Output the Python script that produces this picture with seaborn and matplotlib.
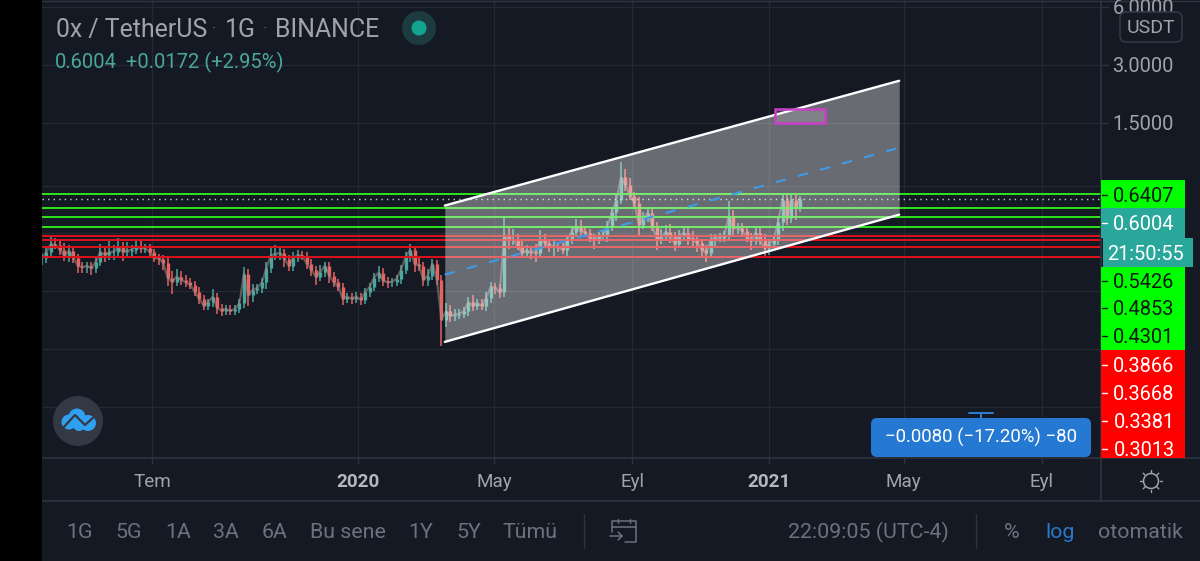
import numpy as np
import pandas as pd
import matplotlib
matplotlib.use("Agg")
import matplotlib.pyplot as plt
import matplotlib.dates as mdates
from matplotlib.patches import FancyBboxPatch, Rectangle, Circle
import seaborn as sns

# ---------- data ----------
start_date = "2019-03-25"
close = [
 .298,.320,.352,.347,.3285,.305,.325,.298,.271,.266,
 .271,.263,.285,.320,.308,.320,.320,.338,.320,.325,
 .3285,.343,.334,.334,.320,.298,.295,.281,.235,.224,
 .238,.2295,.222,.216,.199,.183,.168,.175,.187,.164,
 .158,.162,.158,.162,.173,.247,.19,.2037,.208,.222,
 .263,.308,.312,.316,.295,.271,.298,.308,.305,.278,
 .2586,.238,.252,.271,.241,.222,.211,.183,.187,.183,
 .187,.1807,.197,.211,.235,.25,.227,.222,.224,.232,
 .2586,.30,.3285,.278,.271,.2295,.241,.278,.2295,.1423,
 .157,.149,.151,.153,.157,.175,.168,.173,.168,.185,
 .211,.208,.197,.393,.37,.37,.343,.316,.325,.32,
 .316,.37,.356,.338,.343,.338,.3285,.37,.407,.437,
 .412,.402,.379,.37,.388,.388,.437,.517,.597,.78,
 .716,.627,.577,.442,.48,.511,.437,.37,.383,.407,
 .388,.352,.388,.402,.379,.37,.356,.3285,.316,.37,
 .379,.379,.388,.492,.425,.425,.412,.379,.366,.402,
 .37,.334,.352,.37,.458,.597,.48,.597,.542,.6004,
]
wick_up_pct = [
 5,6,10,7,5,8,7,4,5,4,
 5,4,6,10,7,14,8,12,7,11,
 6,7,8,5,5,4,5,5,6,8,
 10,7,6,5,5,6,5,4,10,4,
 4,4,4,4,5,8,6,7,5,6,
 8,10,12,7,5,5,7,6,5,5,
 6,5,8,5,5,5,4,5,5,5,
 6,5,5,5,6,8,6,5,5,5,
 6,6,7,5,8,5,8,6,5,6,
 10,8,7,6,5,6,9,5,5,7,
 6,5,5,24,8,14,7,6,7,5,
 10,12,7,5,7,5,5,6,6,9,
 7,5,5,5,5,6,6,6,8,21,
 10,8,5,7,7,6,5,5,10,8,
 10,5,7,8,6,8,6,5,6,7,
 5,6,6,20,8,6,7,5,6,8,
 6,7,6,5,6,8,8,8,7,4,
]
wick_dn_pct = [
 8,6,5,5,6,6,7,6,8,7,
 6,8,5,5,8,6,9,5,10,6,
 7,5,6,5,7,5,7,8,10,14,
 5,6,5,5,5,6,5,5,5,7,
 6,5,5,5,5,6,12,7,5,6,
 7,5,6,7,10,6,6,5,5,6,
 7,10,5,6,8,5,5,7,5,6,
 5,6,5,5,5,5,6,6,5,5,
 6,5,5,9,6,7,7,5,6,27,
 8,7,6,5,5,5,6,5,5,6,
 6,7,6,5,10,6,5,6,6,8,
 10,5,5,6,12,6,5,8,5,5,
 7,5,5,10,5,5,7,6,10,5,
 7,5,5,11,5,5,6,12,5,5,
 8,8,5,5,8,7,10,7,10,5,
 7,5,5,5,10,7,5,5,11,5,
 6,11,8,5,6,10,8,6,14,5,
]
green_levels = [0.6407, 0.5426, 0.4853, 0.4301]
red_levels = [0.3866, 0.3668, 0.3381, 0.3013]
last_price = 0.6004
channel_dates = ["2020-03-18", "2021-04-27"]
channel_top = [0.557, 2.48]
channel_mid = [0.2437, 1.113]
channel_bot = [0.109, 0.4995]
box_dates = ["2021-01-06", "2021-02-20"]
box_prices = [1.5, 1.776]
price_grid = [0.05, 0.1, 0.2, 0.4, 0.7, 1.5, 3.0, 6.0]
price_labels = ["6.0000", "3.0000", "1.5000"]
price_label_values = [6.0, 3.0, 1.5]
stack_green = ["0.5426", "0.4853", "0.4301"]
stack_red = ["0.3866", "0.3668", "0.3381", "0.3013"]
date_ticks = ["2019-07-01", "2020-01-01", "2020-05-01", "2020-09-01", "2021-01-01", "2021-05-01", "2021-09-01"]
date_labels = ["Tem", "2020", "May", "Eyl", "2021", "May", "Eyl"]
range_labels = ["1G", "5G", "1A", "3A", "6A", "Bu sene", "1Y", "5Y", "Tümü"]

# ---------- style ----------
BG = "#151924"
GRID = "#242833"
SEP = "#2f333f"
TXT = "#a0a3ad"
DIM = "#6d717d"
TEAL = "#4aa79d"
RED = "#e8625e"
GREEN = "#00ff00"
PX_PER_DAY = 1.122
sns.set_theme(style="dark", rc={"axes.facecolor": BG, "figure.facecolor": BG,
                                "savefig.facecolor": BG})
plt.rcParams["font.family"] = ["Roboto", "DejaVu Sans"]

fig = plt.figure(figsize=(12, 5.61), dpi=100)
W, H = 1200, 561
ax = fig.add_axes([42/W, 1-458/H, (1101-42)/W, 458/H])
ax.set_yscale("log")
ax.set_ylim(0.02716, 6.52)
x0 = mdates.date2num(pd.Timestamp(start_date))
ax.set_xlim(x0, x0 + 1059/PX_PER_DAY)
for s in ax.spines.values():
    s.set_visible(False)

num = lambda seq: mdates.date2num(pd.to_datetime(seq))

# grid
ax.set_xticks(num(date_ticks))
ax.set_xticklabels([])
ax.set_yticks(price_grid)
ax.set_yticklabels([])
ax.minorticks_off()
ax.tick_params(length=0)
ax.grid(True, color=GRID, lw=1.0)
ax.set_axisbelow(True)

# candles
dates = num(pd.date_range(start_date, periods=len(close), freq="4D"))
c = np.array(close)
o = np.r_[c[0], c[:-1]]
hi = np.maximum(o, c) * (1 + np.array(wick_up_pct) / 100)
lo = np.minimum(o, c) * (1 - np.array(wick_dn_pct) / 100)
cols = [TEAL if a >= b else RED for a, b in zip(c, o)]
ax.vlines(dates, lo, hi, colors=cols, lw=1.1, zorder=3)
ax.vlines(dates, np.minimum(o, c), np.maximum(o, c), colors=cols, lw=2.4, zorder=3)
sns.lineplot(x=dates, y=close, ax=ax, color="#a08c88", lw=1.6, alpha=0.55, zorder=3.5, legend=False)

# horizontal levels
xl = ax.get_xlim()
for v in green_levels:
    sns.lineplot(x=list(xl), y=[v, v], ax=ax, color="#2fe31c", lw=1.4, zorder=4, legend=False)
for v in red_levels:
    sns.lineplot(x=list(xl), y=[v, v], ax=ax, color="#e0101a", lw=1.4, zorder=4, legend=False)
ax.plot(list(xl), [last_price, last_price], color="#b9d6d3", lw=1.0, ls=(0, (1, 3)), zorder=4)

# channel
cx = num(channel_dates)
ax.fill_between(cx, channel_bot, channel_top, color="#ffffff", alpha=0.36, lw=0, zorder=5)
sns.lineplot(x=cx, y=channel_mid, ax=ax, color="#3d9be9", lw=1.5, zorder=6, legend=False,
             linestyle=(0, (5, 6)))
sns.lineplot(x=cx, y=channel_top, ax=ax, color="white", lw=1.7, zorder=6, legend=False)
sns.lineplot(x=cx, y=channel_bot, ax=ax, color="white", lw=1.7, zorder=6, legend=False)
bx = num(box_dates)
ax.add_patch(Rectangle((bx[0], box_prices[0]), bx[1]-bx[0], box_prices[1]-box_prices[0],
                       facecolor="#ffffff", alpha=0.15, lw=0, zorder=6))
ax.add_patch(Rectangle((bx[0], box_prices[0]), bx[1]-bx[0], box_prices[1]-box_prices[0],
                       fill=False, edgecolor="#c93fc9", lw=1.8, zorder=7))
ax.set_xlabel(""); ax.set_ylabel("")

# ---------- overlay in pixel coordinates ----------
ov = fig.add_axes([0, 0, 1, 1], facecolor="none")
ov.set_xlim(0, W); ov.set_ylim(H, 0); ov.axis("off")

def T(x, y, s, size, color=TXT, ha="center", **k):
    ov.text(x, y + 1.2, s, fontsize=size, color=color, ha=ha, va="center", **k)

ov.add_patch(Rectangle((0, 0), 42, H, color="black", lw=0, zorder=10))
ov.plot([42, 1200], [1, 1], color=SEP, lw=1.0)
ov.plot([42, 1200], [458, 458], color=SEP, lw=1.2)
ov.plot([42, 1200], [501, 501], color=SEP, lw=1.2)
ov.plot([1101, 1101], [0, 501], color=SEP, lw=1.2)

# header
T(56, 29, "0x / TetherUS", 17.9, ha="left")
T(214, 28, "·", 12, "#5d616c")
T(240, 29, "1G", 17.9)
T(265, 28, "·", 12, "#5d616c")
T(275, 29, "BINANCE", 17.9, ha="left")
ov.add_patch(Circle((419, 28), 17, color="#1c3b40", lw=0))
ov.add_patch(Circle((419, 28), 7.5, color="#12a48f", lw=0))
T(55, 61, "0.6004", 14.5, TEAL, ha="left")
T(126, 61, "+0.0172 (+2.95%)", 14.5, TEAL, ha="left")

# right price scale
price_to_px = lambda v: 123 - 58*np.log2(v/1.5)
for lab, v in zip(price_labels, price_label_values):
    T(1143, price_to_px(v), lab, 14.4)
    ov.plot([1101, 1108], [price_to_px(v)]*2, color=SEP, lw=1)
ov.add_patch(FancyBboxPatch((1120, 12), 62, 30, boxstyle="round,pad=0,rounding_size=6",
                            facecolor=BG, edgecolor="#343844", lw=1.2, zorder=3))
T(1151, 27, "USDT", 14, zorder=4)
ov.add_patch(Rectangle((1101, 180), 84, 28, color=GREEN, lw=0, zorder=3))
T(1144, 195, "0.6407", 14.4, "#0d1a0d", zorder=4)
ov.add_patch(Rectangle((1101, 208), 84, 30, color="#2aa79b", lw=0, zorder=3))
T(1144, 223, "0.6004", 14.4, "white", zorder=4)
ov.add_patch(Rectangle((1103, 238), 90, 29, color="#2aa79b", lw=0, zorder=5))
T(1145, 253, "21:50:55", 14.4, "white", zorder=6)
ov.add_patch(Rectangle((1101, 267), 84, 83, color=GREEN, lw=0, zorder=3))
for lab, y in zip(stack_green, [281, 308, 336]):
    T(1144, y, lab, 14.4, "#0d1a0d", zorder=4)
ov.add_patch(Rectangle((1101, 350), 84, 108, color="#ff0000", lw=0, zorder=3))
for lab, y in zip(stack_red, [365, 393, 421, 449]):
    T(1144, y, lab, 14.4, "white", zorder=4)
for y, col in [(195, "#0d1a0d"), (223, "white"), (281, "#0d1a0d"), (308, "#0d1a0d"), (336, "#0d1a0d"),
               (365, "white"), (393, "white"), (421, "white"), (449, "white")]:
    ov.plot([1102, 1107], [y, y], color=col, lw=1, zorder=4)

# date labels and axis ticks
for d, lab in zip(date_ticks, date_labels):
    px = 42 + (pd.Timestamp(d) - pd.Timestamp(start_date)).days * PX_PER_DAY
    ov.plot([px, px], [458, 463], color=SEP, lw=1)
    T(px, 481, lab, 13.6, "#b4b7bf" if lab.isdigit() else TXT,
      fontweight="bold" if lab.isdigit() else "normal")

# sun icon
ov.add_patch(Circle((1151, 481), 7.5, fill=False, edgecolor=TXT, lw=1.1))
for a in np.arange(0, 360, 45):
    r = np.deg2rad(a)
    ov.plot([1151 + 8.5*np.cos(r), 1151 + 11*np.cos(r)],
            [481 + 8.5*np.sin(r), 481 + 11*np.sin(r)], color=TXT, lw=1.0)

# measure tooltip
ov.plot([969, 993], [413, 413], color="#2f7fd6", lw=1.4)
ov.plot([981, 981], [413, 418], color="#2f7fd6", lw=1.4)
ov.add_patch(FancyBboxPatch((871, 418), 220, 39, boxstyle="round,pad=0,rounding_size=6",
                            color="#2679d2", lw=0, zorder=3))
T(981, 436.5, "−0.0080 (−17.20%) −80", 13.4, "white", zorder=4)

# logo
ov.add_patch(Circle((78, 421), 25, color="#343844", lw=0))
for cxx, cyy, rr in [(69, 422, 7.5), (77, 417, 8.5), (88, 423, 8), (79, 425, 6)]:
    ov.add_patch(Circle((cxx, cyy), rr, color="#2f9ff0", lw=0, zorder=3))
ov.plot([63, 75, 85, 95], [428, 415, 425, 416], color="#343844", lw=1.6, zorder=4)

# toolbar
for x, lab in zip([80, 129, 178, 226, 275, 348, 421, 469, 530], range_labels):
    T(x, 531, lab, 15.4, DIM)
ov.plot([584, 584], [514, 548], color=SEP, lw=1.0)
ov.plot([612, 612, 636, 636, 625], [527, 521, 521, 542, 542], color=DIM, lw=1.1)
ov.plot([612, 636], [527, 527], color=DIM, lw=1.1)
ov.plot([618, 618], [519, 523], color=DIM, lw=1.0)
ov.plot([630, 630], [519, 523], color=DIM, lw=1.0)
ov.plot([612, 612], [527, 532], color=DIM, lw=1.1)
ov.plot([610, 622], [536, 536], color=DIM, lw=1.1)
ov.plot([618, 622, 618], [532, 536, 540], color=DIM, lw=1.1)
T(868, 531, "22:09:05 (UTC-4)", 15.4, DIM)
ov.plot([976, 976], [514, 548], color=SEP, lw=1.0)
T(1012, 531, "%", 15.4, DIM)
T(1060, 531, "log", 15.4, "#2a77c9")
T(1140, 531, "otomatik", 15.4, DIM)

fig.savefig("out.png", dpi=100)
